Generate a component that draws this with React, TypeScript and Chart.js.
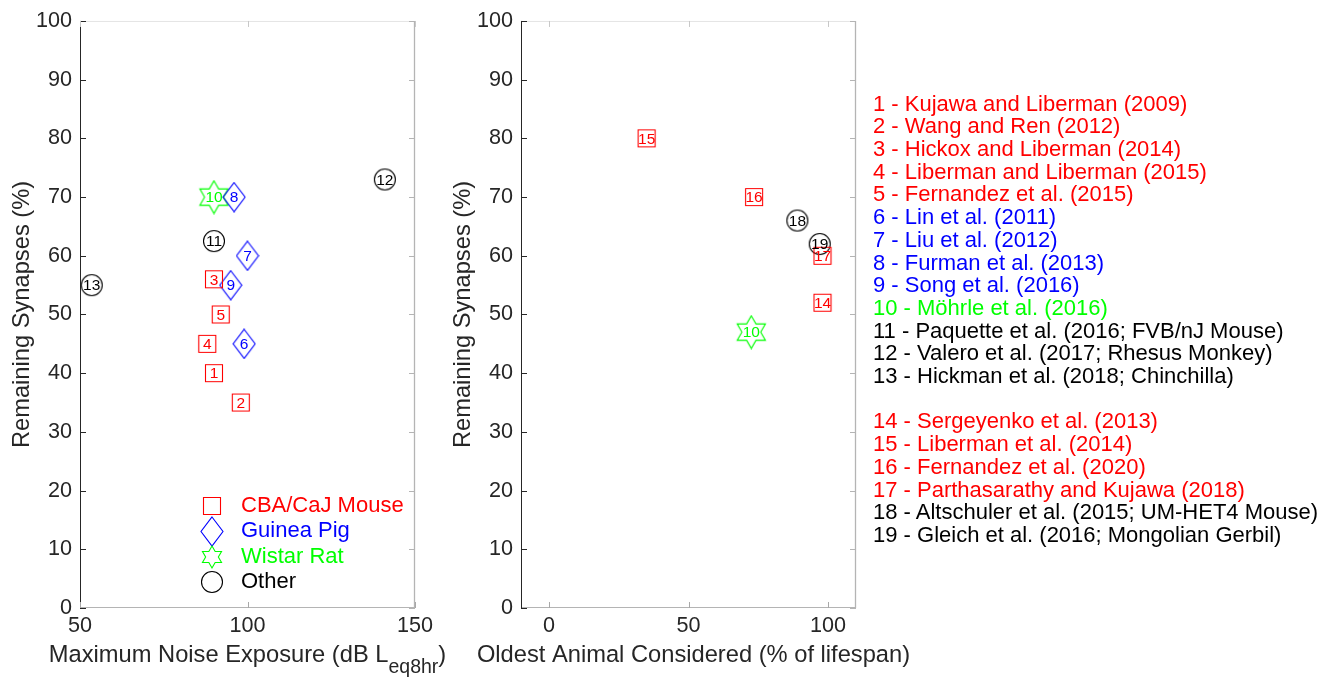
import React, { useEffect, useRef } from 'react';
import { Chart, registerables } from 'chart.js';

Chart.register(...registerables);

const FONT = '"Liberation Sans", Arial, Helvetica, sans-serif';
const AXIS = '#262626';
const RED = '#ff0000';
const BLUE = '#0000ff';
const GREEN = '#00ff00';
const BLACK = '#000000';

// ---------- Left panel: noise exposure vs remaining synapses ----------
const mouseIdsL = [1, 2, 3, 4, 5];
const mouseNoise = [90, 98, 90, 88, 92];
const mouseSynL = [40, 35, 56, 45, 50];

const gpIds = [6, 7, 8, 9];
const gpNoise = [99, 100, 96, 95];
const gpSyn = [45, 60, 70, 55];

const ratIds = [10];
const ratNoise = [90];
const ratSynL = [70];

const otherIdsL = [11, 12, 13];
const otherNoise = [90, 141, 53.5];
const otherSynL = [62.5, 73, 55];

// ---------- Right panel: oldest animal vs remaining synapses ----------
const mouseIdsR = [14, 15, 16, 17];
const mouseAge = [98, 35, 73.5, 98];
const mouseSynR = [52, 80, 70, 60];

const ratAge = [72.5];
const ratSynR = [47];

const otherIdsR = [18, 19];
const otherAge = [89, 97];
const otherSynR = [66, 62];

// ---------- ticks & text ----------
const yTicks = [0, 10, 20, 30, 40, 50, 60, 70, 80, 90, 100];
const xTicksL = [50, 100, 150];
const xTicksR = [0, 50, 100];

const legendLabels = ['CBA/CaJ Mouse', 'Guinea Pig', 'Wistar Rat', 'Other'];
const legendColors = [RED, BLUE, GREEN, BLACK];
const legendShapes = ['square', 'diamond', 'hexagramSmall', 'circle'];

const refTexts = [
  '1 - Kujawa and Liberman (2009)',
  '2 - Wang and Ren (2012)',
  '3 - Hickox and Liberman (2014)',
  '4 - Liberman and Liberman (2015)',
  '5 - Fernandez et al. (2015)',
  '6 - Lin et al. (2011)',
  '7 - Liu et al. (2012)',
  '8 - Furman et al. (2013)',
  '9 - Song et al. (2016)',
  '10 - Möhrle et al. (2016)',
  '11 - Paquette et al. (2016; FVB/nJ Mouse)',
  '12 - Valero et al. (2017; Rhesus Monkey)',
  '13 - Hickman et al. (2018; Chinchilla)',
  '14 - Sergeyenko et al. (2013)',
  '15 - Liberman et al. (2014)',
  '16 - Fernandez et al. (2020)',
  '17 - Parthasarathy and Kujawa (2018)',
  '18 - Altschuler et al. (2015; UM-HET4 Mouse)',
  '19 - Gleich et al. (2016; Mongolian Gerbil)',
];
const refColors = [
  RED, RED, RED, RED, RED, BLUE, BLUE, BLUE, BLUE, GREEN, BLACK, BLACK, BLACK,
  RED, RED, RED, RED, BLACK, BLACK,
];

// ---------- marker images ----------
function makeMarker(shape: string, color: string): HTMLCanvasElement {
  const c = document.createElement('canvas');
  const dims: Record<string, number[]> = {
    square: [20, 20],
    diamond: [24, 31],
    hexagram: [33, 35],
    hexagramSmall: [24, 26],
    circle: [24, 24],
  };
  const [w, h] = dims[shape];
  c.width = w;
  c.height = h;
  const ctx = c.getContext('2d')!;
  ctx.strokeStyle = color;
  ctx.lineWidth = 1.1;
  ctx.beginPath();
  const cx = w / 2;
  const cy = h / 2;
  if (shape === 'square') {
    ctx.rect(cx - 8.5, cy - 8.5, 17, 17);
  } else if (shape === 'diamond') {
    ctx.moveTo(cx, cy - 14.5);
    ctx.lineTo(cx + 11, cy);
    ctx.lineTo(cx, cy + 14.5);
    ctx.lineTo(cx - 11, cy);
    ctx.closePath();
  } else if (shape === 'hexagram' || shape === 'hexagramSmall') {
    const R = shape === 'hexagram' ? 16.3 : 11;
    const r = R / Math.sqrt(3);
    for (let k = 0; k < 12; k++) {
      const a = -Math.PI / 2 + (k * Math.PI) / 6;
      const rr = k % 2 === 0 ? R : r;
      const px = cx + rr * Math.cos(a);
      const py = cy + rr * Math.sin(a);
      if (k === 0) ctx.moveTo(px, py);
      else ctx.lineTo(px, py);
    }
    ctx.closePath();
  } else {
    ctx.arc(cx, cy, 10.5, 0, Math.PI * 2);
  }
  ctx.stroke();
  return c;
}

function scatterSet(xs: number[], ys: number[], ids: number[], shape: string, color: string) {
  return {
    type: 'scatter',
    data: xs.map((x, i) => ({ x, y: ys[i] })),
    ids,
    labelColor: color,
    pointStyle: makeMarker(shape, color),
    pointRadius: 10,
    pointHoverRadius: 10,
    borderColor: color,
    backgroundColor: 'transparent',
    showLine: false,
  } as any;
}

// ---------- plugins ----------
const frame = {
  id: 'frame',
  beforeDatasetsDraw(chart: any) {
    const { ctx, chartArea } = chart;
    const { left, right, top, bottom } = chartArea;
    const xs = chart.scales.x;
    const ys = chart.scales.y;
    const line = (x1: number, y1: number, x2: number, y2: number, col: string, lw = 1) => {
      ctx.strokeStyle = col;
      ctx.lineWidth = lw;
      ctx.beginPath();
      ctx.moveTo(x1, y1);
      ctx.lineTo(x2, y2);
      ctx.stroke();
    };
    ctx.save();
    line(left, top + 0.5, right, top + 0.5, '#e4e4e4');
    line(right - 0.5, top, right - 0.5, bottom, '#b4b4b4', 1.3);
    line(left, bottom - 0.5, right, bottom - 0.5, '#b4b4b4');
    line(left + 0.5, top, left + 0.5, bottom, AXIS);
    ys.ticks.forEach((t: any) => {
      const py = Math.round(ys.getPixelForValue(t.value)) + 0.5;
      line(left, py, left + 6, py, AXIS);
      line(right, py, right - 6, py, '#b4b4b4');
    });
    xs.ticks.forEach((t: any) => {
      const px = Math.round(xs.getPixelForValue(t.value)) + 0.5;
      line(px, bottom, px, bottom - 6, '#a8a8a8');
      line(px, top, px, top + 6, '#c8c8c8');
    });
    ctx.restore();
  },
};

const idLabels = {
  id: 'idLabels',
  afterDatasetsDraw(chart: any) {
    const ctx = chart.ctx;
    ctx.save();
    ctx.font = `15.5px ${FONT}`;
    ctx.textAlign = 'center';
    ctx.textBaseline = 'middle';
    chart.data.datasets.forEach((ds: any, i: number) => {
      const meta = chart.getDatasetMeta(i);
      meta.data.forEach((pt: any, j: number) => {
        ctx.fillStyle = ds.labelColor;
        ctx.fillText(String(ds.ids[j]), pt.x, pt.y + 1);
      });
    });
    ctx.restore();
  },
};

const legendMarkers: HTMLCanvasElement[] = [];
const legendBox = {
  id: 'legendBox',
  afterDraw(chart: any) {
    const ctx = chart.ctx;
    if (!legendMarkers.length) {
      legendShapes.forEach((s, i) => legendMarkers.push(makeMarker(s, legendColors[i])));
    }
    ctx.save();
    ctx.font = `22px ${FONT}`;
    ctx.textAlign = 'left';
    ctx.textBaseline = 'middle';
    legendLabels.forEach((txt, i) => {
      const y = 506 + i * 25.4;
      const m = legendMarkers[i];
      ctx.drawImage(m, Math.round(211.5 - m.width / 2), Math.round(y - m.height / 2));
      ctx.fillStyle = legendColors[i];
      ctx.fillText(txt, 241, y);
    });
    ctx.restore();
  },
};

// x-axis title drawn by hand (subscript support, no width squeeze)
function xTitlePlugin(parts: { t: string; size: number; dy: number }[], shift: number) {
  return {
    id: 'xTitle',
    afterDraw(chart: any) {
      const ctx = chart.ctx;
      const { left, right } = chart.chartArea;
      ctx.save();
      ctx.fillStyle = AXIS;
      ctx.textBaseline = 'alphabetic';
      ctx.textAlign = 'left';
      const widths = parts.map((p) => {
        ctx.font = `${p.size}px ${FONT}`;
        return ctx.measureText(p.t).width;
      });
      const total = widths.reduce((a, b) => a + b, 0);
      let x = (left + right) / 2 + shift - total / 2;
      const base = 661.5;
      parts.forEach((p, i) => {
        ctx.font = `${p.size}px ${FONT}`;
        ctx.fillText(p.t, x, base + p.dy);
        x += widths[i];
      });
      ctx.restore();
    },
  };
}

function yScale() {
  return {
    type: 'linear',
    min: 0,
    max: 100,
    afterBuildTicks: (s: any) => {
      s.ticks = yTicks.map((v) => ({ value: v }));
    },
    afterFit: (s: any) => {
      s.width = 80;
    },
    grid: { display: false, drawTicks: false },
    border: { display: false },
    ticks: { font: { size: 21.6, family: FONT }, color: AXIS, padding: 8, autoSkip: false },
    title: {
      display: true,
      text: 'Remaining Synapses (%)',
      font: { size: 23.7, family: FONT },
      color: AXIS,
      padding: { top: 8, bottom: 0 },
    },
  };
}

function xScale(min: number, max: number, ticks: number[]) {
  return {
    type: 'linear',
    min,
    max,
    afterBuildTicks: (s: any) => {
      s.ticks = ticks.map((v) => ({ value: v }));
    },
    afterFit: (s: any) => {
      s.height = 71;
    },
    grid: { display: false, drawTicks: false },
    border: { display: false },
    ticks: { font: { size: 21.6, family: FONT }, color: AXIS, padding: 5, maxRotation: 0, autoSkip: false },
    title: { display: false },
  };
}

function leftConfig(): any {
  return {
    type: 'scatter',
    data: {
      datasets: [
        scatterSet(mouseNoise, mouseSynL, mouseIdsL, 'square', RED),
        scatterSet(gpNoise, gpSyn, gpIds, 'diamond', BLUE),
        scatterSet(ratNoise, ratSynL, ratIds, 'hexagram', GREEN),
        scatterSet(otherNoise, otherSynL, otherIdsL, 'circle', BLACK),
      ],
    },
    options: {
      animation: false,
      responsive: false,
      devicePixelRatio: 1,
      layout: { padding: { left: 0, top: 18, right: 55, bottom: 0 } },
      scales: { x: xScale(50, 150, xTicksL), y: yScale() },
      plugins: { legend: { display: false }, tooltip: { enabled: false } },
      events: [],
    },
    plugins: [
      frame,
      idLabels,
      legendBox,
      xTitlePlugin(
        [
          { t: 'Maximum Noise Exposure (dB L', size: 23.7, dy: 0 },
          { t: 'eq8hr', size: 19.5, dy: 11 },
          { t: ')', size: 23.7, dy: 0 },
        ],
        0
      ),
    ],
  };
}

function rightConfig(): any {
  return {
    type: 'scatter',
    data: {
      datasets: [
        scatterSet(mouseAge, mouseSynR, mouseIdsR, 'square', RED),
        scatterSet(ratAge, ratSynR, ratIds, 'hexagram', GREEN),
        scatterSet(otherAge, otherSynR, otherIdsR, 'circle', BLACK),
      ],
    },
    options: {
      animation: false,
      responsive: false,
      devicePixelRatio: 1,
      layout: { padding: { left: 0, top: 18, right: 65, bottom: 0 } },
      scales: {
        x: xScale(-10, 110, xTicksR),
        y: yScale(),
      },
      plugins: { legend: { display: false }, tooltip: { enabled: false } },
      events: [],
    },
    plugins: [
      frame,
      idLabels,
      xTitlePlugin([{ t: 'Oldest Animal Considered (% of lifespan)', size: 23.7, dy: 0 }], 5),
    ],
  };
}

function Panel({ build, left, width }: { build: () => any; left: number; width: number }) {
  const ref = useRef<HTMLCanvasElement>(null);
  useEffect(() => {
    const chart = new Chart(ref.current!, build());
    return () => chart.destroy();
  }, []);
  return (
    <canvas
      ref={ref}
      width={width}
      height={679}
      style={{ position: 'absolute', left, top: 0, width, height: 679 }}
    />
  );
}

export default function App() {
  return (
    <div style={{ position: 'absolute', left: 0, top: 0, width: 1331, height: 679, background: '#fff', overflow: 'hidden' }}>
      <Panel build={leftConfig} left={0} width={470} />
      <Panel build={rightConfig} left={441} width={480} />
      <div
        style={{
          position: 'absolute',
          left: 873,
          top: 92.6,
          fontFamily: FONT,
          fontSize: 22,
          lineHeight: '22.7px',
          whiteSpace: 'pre',
        }}
      >
        {refTexts.map((t, i) => (
          <React.Fragment key={i}>
            {i === 13 && <div>&nbsp;</div>}
            <div style={{ color: refColors[i] }}>{t}</div>
          </React.Fragment>
        ))}
      </div>
    </div>
  );
}
